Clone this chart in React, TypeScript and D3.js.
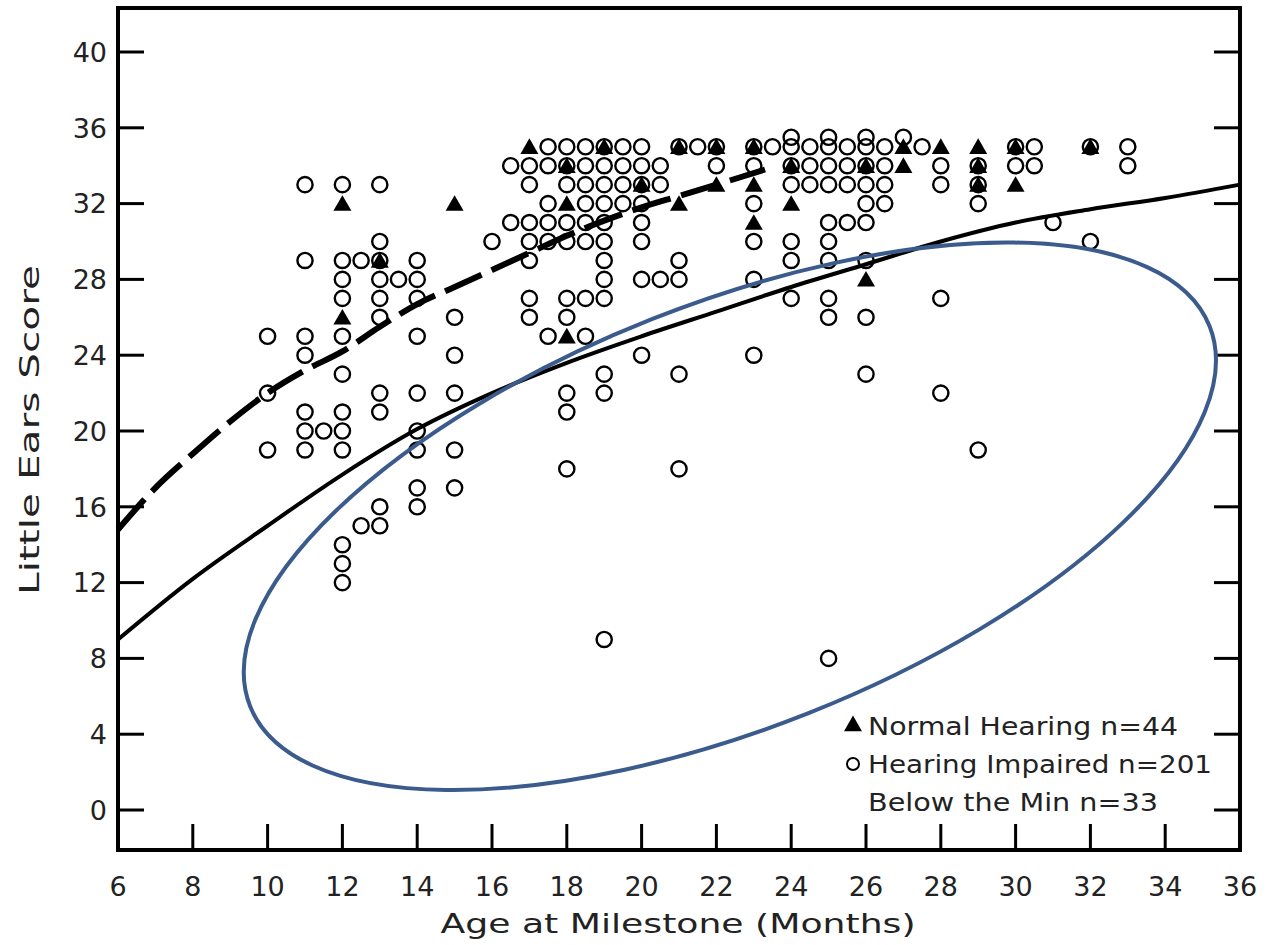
import React from 'react';
import * as d3 from 'd3';

// ages (months) and Little Ears scores
const impaired: [number, number][] = [
  [10, 25], [10, 22], [10, 19],
  [11, 33], [11, 29], [11, 25], [11, 24], [11, 21], [11, 20], [11, 19], [11.5, 20],
  [12, 33], [12, 29], [12, 28], [12, 27], [12, 25], [12, 23], [12, 21], [12, 20], [12, 19], [12, 14], [12, 13], [12, 12],
  [12.5, 29], [12.5, 15],
  [13, 33], [13, 30], [13, 29], [13, 28], [13, 27], [13, 26], [13, 22], [13, 21], [13, 16], [13, 15], [13.5, 28],
  [14, 29], [14, 28], [14, 27], [14, 25], [14, 22], [14, 20], [14, 19], [14, 17], [14, 16],
  [15, 26], [15, 24], [15, 22], [15, 19], [15, 17],
  [16, 30], [16.5, 34], [16.5, 31],
  [17, 34], [17, 33], [17, 31], [17, 30], [17, 29], [17, 27], [17, 26],
  [17.5, 35], [17.5, 34], [17.5, 32], [17.5, 31], [17.5, 30], [17.5, 25],
  [18, 35], [18, 34], [18, 33], [18, 31], [18, 30], [18, 27], [18, 26], [18, 22], [18, 21], [18, 18],
  [18.5, 35], [18.5, 34], [18.5, 33], [18.5, 32], [18.5, 31], [18.5, 30], [18.5, 27], [18.5, 25],
  [19, 35], [19, 34], [19, 33], [19, 32], [19, 31], [19, 30], [19, 29], [19, 28], [19, 27], [19, 23], [19, 22], [19, 9],
  [19.5, 35], [19.5, 34], [19.5, 33], [19.5, 32],
  [20, 35], [20, 34], [20, 33], [20, 32], [20, 31], [20, 30], [20, 28], [20, 24],
  [20.5, 34], [20.5, 33], [20.5, 28],
  [21, 35], [21, 29], [21, 28], [21, 23], [21, 18], [21.5, 35],
  [22, 35], [22, 34],
  [23, 35], [23, 34], [23, 32], [23, 30], [23, 28], [23, 24], [23.5, 35],
  [24, 35.5], [24, 35], [24, 34], [24, 33], [24, 30], [24, 29], [24, 27],
  [24.5, 35], [24.5, 34], [24.5, 33],
  [25, 35.5], [25, 35], [25, 34], [25, 33], [25, 31], [25, 30], [25, 29], [25, 27], [25, 26], [25, 8],
  [25.5, 35], [25.5, 34], [25.5, 33], [25.5, 31],
  [26, 35.5], [26, 35], [26, 34], [26, 33], [26, 32], [26, 31], [26, 29], [26, 26], [26, 23],
  [26.5, 35], [26.5, 34], [26.5, 33], [26.5, 32],
  [27, 35.5], [27.5, 35],
  [28, 34], [28, 33], [28, 27], [28, 22],
  [29, 34], [29, 33], [29, 32], [29, 19],
  [30, 35], [30, 34], [30.5, 35], [30.5, 34],
  [31, 31], [32, 35], [32, 30], [33, 35], [33, 34],
];

const normal: [number, number][] = [
  [12, 32], [12, 26], [13, 29], [15, 32], [17, 35],
  [18, 34], [18, 32], [18, 25], [19, 35], [20, 33],
  [21, 35], [21, 32], [22, 35], [22, 33],
  [23, 35], [23, 33], [23, 31], [24, 34], [24, 32],
  [26, 34], [26, 28], [27, 35], [27, 34], [28, 35],
  [29, 35], [29, 34], [29, 33], [30, 35], [30, 33], [32, 35],
];

// fitted curves
const normalFit: [number, number][] = [
  [6, 14.8], [7, 17.0], [8, 18.8], [9, 20.5], [10, 22.0], [11, 23.2], [12, 24.2],
  [13, 25.5], [14, 26.7], [15, 27.6], [16, 28.5], [17, 29.4], [18, 30.3],
  [19, 31.1], [20, 31.8], [21, 32.4], [22, 33.0], [23.3, 33.8],
];
const impairedFit: [number, number][] = [
  [6, 9.0], [8, 12.2], [10, 15.0], [12, 17.7], [14, 20.1], [16, 22.0], [18, 23.6],
  [20, 25.0], [22, 26.3], [24, 27.6], [26, 28.8], [28, 30.0], [30, 31.0],
  [32, 31.7], [34, 32.3], [36, 33.0],
];

const xTicks = d3.range(6, 37, 2);
const yTicks = d3.range(0, 41, 4);

const legendItems = ['Normal Hearing n=44', 'Hearing Impaired n=201', 'Below the Min n=33'];

const W = 1268;
const H = 945;
const FONT = 'DejaVu Sans, sans-serif';

export default function App() {
  const x = d3.scaleLinear().domain([6, 36]).range([118, 1240]);
  const y = d3.scaleLinear().domain([0, 40]).range([810, 52]);
  const top = 8;
  const bottom = 850;

  const line = d3.line<[number, number]>()
    .x(d => x(d[0]))
    .y(d => y(d[1]))
    .curve(d3.curveMonotoneX);

  const tri = d3.symbol().type(d3.symbolTriangle).size(140)();

  // highlight ellipse drawn over the chart
  const ex = x(22.36);
  const ey = y(15.5);

  return (
    <svg width={W} height={H} style={{ position: 'absolute', left: 0, top: 0, background: '#fff' }}
      fontFamily={FONT}>
      <rect x={0} y={0} width={W} height={H} fill="#fff" />

      {/* frame */}
      <rect x={x(6)} y={top} width={x(36) - x(6)} height={bottom - top}
        fill="none" stroke="#000" strokeWidth={4} />

      {yTicks.map(t => (
        <g key={'y' + t}>
          <line x1={x(6)} x2={x(6) + 26} y1={y(t)} y2={y(t)} stroke="#000" strokeWidth={3} />
          <line x1={x(36)} x2={x(36) - 26} y1={y(t)} y2={y(t)} stroke="#000" strokeWidth={3} />
          <text x={107} y={y(t)} dy="0.36em" textAnchor="end" fontSize={27} fill="#222">{t}</text>
        </g>
      ))}
      {xTicks.map(t => (
        <g key={'x' + t}>
          <line x1={x(t)} x2={x(t)} y1={bottom} y2={bottom - 26} stroke="#000" strokeWidth={3} />
          <text x={x(t)} y={896} textAnchor="middle" fontSize={27} fill="#222">{t}</text>
        </g>
      ))}

      <text x={678} y={933} textAnchor="middle" fontSize={27} fill="#222"
        textLength={475} lengthAdjust="spacingAndGlyphs">Age at Milestone (Months)</text>
      <text transform={`translate(39,430) rotate(-90)`} textAnchor="middle" fontSize={27} fill="#222"
        textLength={330} lengthAdjust="spacingAndGlyphs">Little Ears Score</text>

      {/* fitted curves */}
      <path d={line(normalFit) || ''} fill="none" stroke="#000" strokeWidth={6}
        strokeDasharray="40 11" />
      <path d={line(impairedFit) || ''} fill="none" stroke="#000" strokeWidth={4} />

      {impaired.map((d, i) => (
        <circle key={'c' + i} cx={x(d[0])} cy={y(d[1])} r={7.6} fill="none" stroke="#000" strokeWidth={2.4} />
      ))}
      {normal.map((d, i) => (
        <path key={'t' + i} d={tri || ''} transform={`translate(${x(d[0])},${y(d[1]) + 2})`} fill="#000" />
      ))}

      {/* legend */}
      <path d={tri || ''} transform="translate(853,726)" fill="#000" />
      <circle cx={853} cy={764} r={6} fill="none" stroke="#000" strokeWidth={2} />
      {legendItems.map((s, i) => (
        <text key={s} x={868} y={735 + i * 38} fontSize={24} fill="#222"
          textLength={[310, 344, 290][i]} lengthAdjust="spacingAndGlyphs">{s}</text>
      ))}

      <ellipse cx={ex} cy={ey} rx={516} ry={212} fill="none" stroke="#3b5b8c" strokeWidth={4}
        transform={`rotate(-21.6,${ex},${ey})`} />
    </svg>
  );
}
